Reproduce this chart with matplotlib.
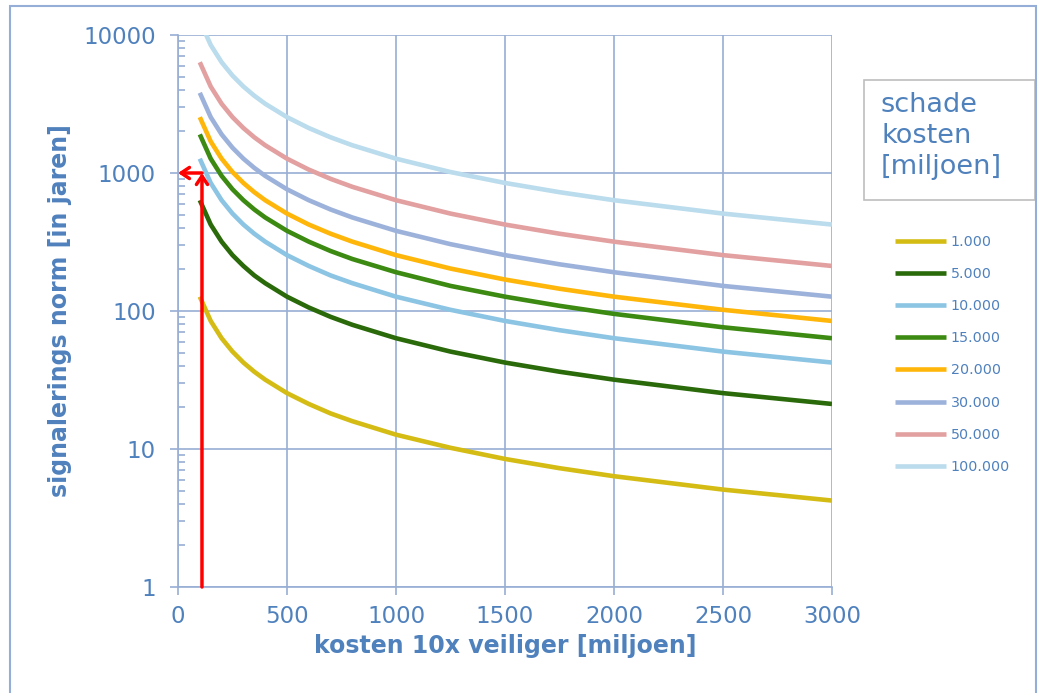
import matplotlib.pyplot as plt
from matplotlib.patches import Rectangle
from matplotlib.ticker import LogLocator, FixedLocator, NullFormatter

# kosten 10x veiliger [miljoen]
x = [100, 150, 200, 250, 300, 350, 400, 500, 600, 700, 800, 1000, 1250, 1500, 1750, 2000, 2500, 3000]

# signaleringsnorm per schadepost
y_1000 = [127, 84.7, 63.5, 50.8, 42.3, 36.3, 31.8, 25.4, 21.2, 18.1, 15.9, 12.7, 10.2, 8.47, 7.26, 6.35, 5.08, 4.23]
y_5000 = [635, 423, 318, 254, 212, 181, 159, 127, 106, 90.7, 79.4, 63.5, 50.8, 42.3, 36.3, 31.8, 25.4, 21.2]
y_10000 = [1270, 847, 635, 508, 423, 363, 318, 254, 212, 181, 159, 127, 102, 84.7, 72.6, 63.5, 50.8, 42.3]
y_15000 = [1905, 1270, 953, 762, 635, 544, 476, 381, 318, 272, 238, 191, 152, 127, 109, 95.3, 76.2, 63.5]
y_20000 = [2540, 1693, 1270, 1016, 847, 726, 635, 508, 423, 363, 318, 254, 203, 169, 145, 127, 102, 84.7]
y_30000 = [3810, 2540, 1905, 1524, 1270, 1089, 953, 762, 635, 544, 476, 381, 305, 254, 218, 191, 152, 127]
y_50000 = [6350, 4233, 3175, 2540, 2117, 1814, 1588, 1270, 1058, 907, 794, 635, 508, 423, 363, 318, 254, 212]
y_100000 = [12700, 8467, 6350, 5080, 4233, 3629, 3175, 2540, 2117, 1814, 1588, 1270, 1016, 847, 726, 635, 508, 423]

labels = ['1.000', '5.000', '10.000', '15.000', '20.000', '30.000', '50.000', '100.000']
series = [y_1000, y_5000, y_10000, y_15000, y_20000, y_30000, y_50000, y_100000]
colors = ['#D4BC14', '#2A6A0A', '#8CC4E4', '#3C8A12', '#FFB60A', '#9DB2DA', '#E2A0A0', '#BADCEC']

# pijl: 110 miljoen -> norm 1000
arrow_x = 110
arrow_y = 1000

txt = '#4F81BD'
grid = '#98AED4'

fig = plt.figure(figsize=(10.41, 6.93), dpi=100)
ax = fig.add_axes([178/1041, 1 - 587/693, 654/1041, 552/693])

lines = []
for ys, lab, c in zip(series, labels, colors):
    l, = ax.plot(x, ys, color=c, lw=3.3, label=lab, solid_capstyle='butt')
    lines.append(l)

ax.annotate('', xy=(arrow_x, arrow_y), xytext=(arrow_x, 1),
            arrowprops=dict(arrowstyle='->,head_length=0.6,head_width=0.4', color='#FF0000', lw=2.5,
                            shrinkA=0, shrinkB=0))
ax.annotate('', xy=(0, arrow_y), xytext=(arrow_x, arrow_y),
            arrowprops=dict(arrowstyle='->,head_length=0.6,head_width=0.4', color='#FF0000', lw=2.5,
                            shrinkA=0, shrinkB=0), annotation_clip=False)

ax.set_yscale('log')
ax.set_xlim(0, 3000)
ax.set_ylim(1, 10000)
ax.xaxis.set_major_locator(FixedLocator([0, 500, 1000, 1500, 2000, 2500, 3000]))
ax.yaxis.set_major_locator(FixedLocator([1, 10, 100, 1000, 10000]))
ax.set_yticklabels(['1', '10', '100', '1000', '10000'])
ax.yaxis.set_minor_locator(LogLocator(base=10, subs=range(2, 10)))
ax.yaxis.set_minor_formatter(NullFormatter())
ax.grid(True, which='major', color=grid, lw=1.2)
for s in ax.spines.values():
    s.set_color(grid)
    s.set_linewidth(1.2)
ax.spines['top'].set_visible(False)
ax.spines['right'].set_visible(False)
ax.tick_params(which='major', length=6, width=1.2, color=grid, labelcolor=txt, labelsize=16.5, pad=7)
ax.tick_params(axis='y', which='major', pad=10)
ax.tick_params(axis='y', which='minor', direction='in', length=5, width=1.2, color=grid)
ax.set_xlabel('kosten 10x veiliger [miljoen]', color=txt, fontsize=17, fontweight='bold', labelpad=4)
ax.set_ylabel('signalerings norm [in jaren]', color=txt, fontsize=17, fontweight='bold', labelpad=8)

leg = fig.legend(handles=lines, loc='upper left', bbox_to_anchor=(889/1041, 1 - 229/693),
                 frameon=False, fontsize=10.3, handlelength=3.6, labelspacing=1.27, handletextpad=0.3,
                 borderaxespad=0)
for t in leg.get_texts():
    t.set_color(txt)

# titelvak van de legenda
fig.add_artist(Rectangle((864/1041, 1 - 200/693), 171/1041, 120/693, transform=fig.transFigure,
                         fill=False, edgecolor='#BEBEBE', lw=1.2))
fig.text(881/1041, 1 - 92/693, 'schade\nkosten\n[miljoen]', color=txt, fontsize=19.5,
         va='top', ha='left', linespacing=1.25)

# buitenrand
fig.add_artist(Rectangle((10/1041, -0.01), 1026/1041, 1 - 6/693 + 0.01, transform=fig.transFigure,
                         fill=False, edgecolor='#94AED8', lw=1.5))

fig.savefig('out.png', dpi=100)
